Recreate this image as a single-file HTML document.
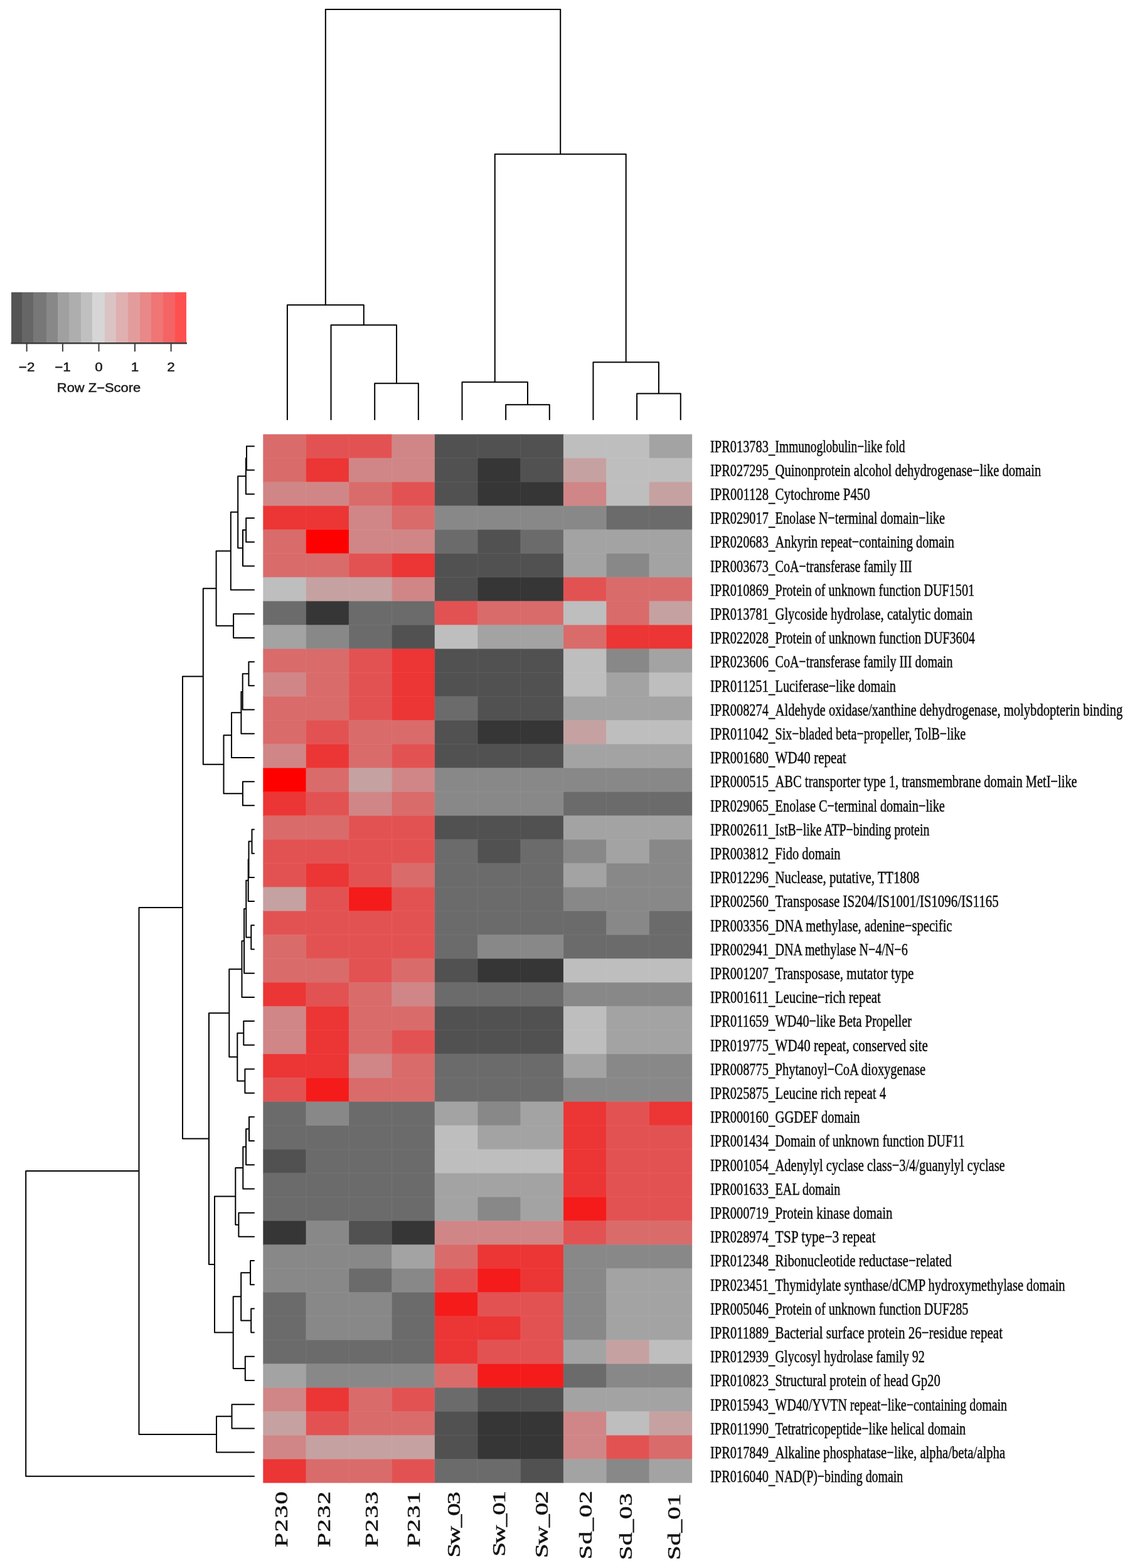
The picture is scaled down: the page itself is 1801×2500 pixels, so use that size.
<!DOCTYPE html>
<html><head><meta charset="utf-8"><title>Heatmap</title>
<style>html,body{margin:0;padding:0;background:#fff;}body{width:1801px;height:2500px;overflow:hidden;}svg{display:block;}.rl{font-family:"Liberation Serif","Times New Roman",serif;font-size:27.6px;fill:#0a0a0a;stroke:#0a0a0a;stroke-width:0.45px;}.cl{font-family:"Liberation Serif","Times New Roman",serif;font-size:30.5px;fill:#111;stroke:#111;stroke-width:0.5px;}.kt{font-family:"Liberation Sans",Arial,sans-serif;font-size:19.5px;fill:#1a1a1a;stroke:#1a1a1a;stroke-width:0.45px;}</style></head><body>
<svg width="1801" height="2500" viewBox="0 0 1801 2500">
<rect width="1801" height="2500" fill="#fff"/>
<g>
<rect x="419.3" y="692.4" width="69.38" height="39" fill="#d96b6b"/>
<rect x="487.68" y="692.4" width="69.38" height="39" fill="#e35252"/>
<rect x="556.06" y="692.4" width="69.38" height="39" fill="#e35252"/>
<rect x="624.44" y="692.4" width="69.38" height="39" fill="#d08686"/>
<rect x="692.82" y="692.4" width="69.38" height="39" fill="#515151"/>
<rect x="761.2" y="692.4" width="69.38" height="39" fill="#515151"/>
<rect x="829.58" y="692.4" width="69.38" height="39" fill="#515151"/>
<rect x="897.96" y="692.4" width="69.38" height="39" fill="#bebebe"/>
<rect x="966.34" y="692.4" width="69.38" height="39" fill="#bebebe"/>
<rect x="1034.72" y="692.4" width="68.38" height="39" fill="#a3a3a3"/>
<rect x="419.3" y="730.4" width="69.38" height="39" fill="#d96b6b"/>
<rect x="487.68" y="730.4" width="69.38" height="39" fill="#ec3535"/>
<rect x="556.06" y="730.4" width="69.38" height="39" fill="#d08686"/>
<rect x="624.44" y="730.4" width="69.38" height="39" fill="#d08686"/>
<rect x="692.82" y="730.4" width="69.38" height="39" fill="#515151"/>
<rect x="761.2" y="730.4" width="69.38" height="39" fill="#363636"/>
<rect x="829.58" y="730.4" width="69.38" height="39" fill="#515151"/>
<rect x="897.96" y="730.4" width="69.38" height="39" fill="#c6a1a1"/>
<rect x="966.34" y="730.4" width="69.38" height="39" fill="#bebebe"/>
<rect x="1034.72" y="730.4" width="68.38" height="39" fill="#bebebe"/>
<rect x="419.3" y="768.4" width="69.38" height="39" fill="#d08686"/>
<rect x="487.68" y="768.4" width="69.38" height="39" fill="#d08686"/>
<rect x="556.06" y="768.4" width="69.38" height="39" fill="#d96b6b"/>
<rect x="624.44" y="768.4" width="69.38" height="39" fill="#e35252"/>
<rect x="692.82" y="768.4" width="69.38" height="39" fill="#515151"/>
<rect x="761.2" y="768.4" width="69.38" height="39" fill="#363636"/>
<rect x="829.58" y="768.4" width="69.38" height="39" fill="#363636"/>
<rect x="897.96" y="768.4" width="69.38" height="39" fill="#d08686"/>
<rect x="966.34" y="768.4" width="69.38" height="39" fill="#bebebe"/>
<rect x="1034.72" y="768.4" width="68.38" height="39" fill="#c6a1a1"/>
<rect x="419.3" y="806.4" width="69.38" height="39" fill="#ec3535"/>
<rect x="487.68" y="806.4" width="69.38" height="39" fill="#ec3535"/>
<rect x="556.06" y="806.4" width="69.38" height="39" fill="#d08686"/>
<rect x="624.44" y="806.4" width="69.38" height="39" fill="#d96b6b"/>
<rect x="692.82" y="806.4" width="69.38" height="39" fill="#888888"/>
<rect x="761.2" y="806.4" width="69.38" height="39" fill="#888888"/>
<rect x="829.58" y="806.4" width="69.38" height="39" fill="#888888"/>
<rect x="897.96" y="806.4" width="69.38" height="39" fill="#888888"/>
<rect x="966.34" y="806.4" width="69.38" height="39" fill="#6b6b6b"/>
<rect x="1034.72" y="806.4" width="68.38" height="39" fill="#6b6b6b"/>
<rect x="419.3" y="844.4" width="69.38" height="39" fill="#d96b6b"/>
<rect x="487.68" y="844.4" width="69.38" height="39" fill="#ff0000"/>
<rect x="556.06" y="844.4" width="69.38" height="39" fill="#d08686"/>
<rect x="624.44" y="844.4" width="69.38" height="39" fill="#d08686"/>
<rect x="692.82" y="844.4" width="69.38" height="39" fill="#6b6b6b"/>
<rect x="761.2" y="844.4" width="69.38" height="39" fill="#515151"/>
<rect x="829.58" y="844.4" width="69.38" height="39" fill="#6b6b6b"/>
<rect x="897.96" y="844.4" width="69.38" height="39" fill="#a3a3a3"/>
<rect x="966.34" y="844.4" width="69.38" height="39" fill="#a3a3a3"/>
<rect x="1034.72" y="844.4" width="68.38" height="39" fill="#a3a3a3"/>
<rect x="419.3" y="882.4" width="69.38" height="39" fill="#d96b6b"/>
<rect x="487.68" y="882.4" width="69.38" height="39" fill="#d96b6b"/>
<rect x="556.06" y="882.4" width="69.38" height="39" fill="#e35252"/>
<rect x="624.44" y="882.4" width="69.38" height="39" fill="#ec3535"/>
<rect x="692.82" y="882.4" width="69.38" height="39" fill="#515151"/>
<rect x="761.2" y="882.4" width="69.38" height="39" fill="#515151"/>
<rect x="829.58" y="882.4" width="69.38" height="39" fill="#515151"/>
<rect x="897.96" y="882.4" width="69.38" height="39" fill="#a3a3a3"/>
<rect x="966.34" y="882.4" width="69.38" height="39" fill="#888888"/>
<rect x="1034.72" y="882.4" width="68.38" height="39" fill="#a3a3a3"/>
<rect x="419.3" y="920.4" width="69.38" height="39" fill="#bebebe"/>
<rect x="487.68" y="920.4" width="69.38" height="39" fill="#c6a1a1"/>
<rect x="556.06" y="920.4" width="69.38" height="39" fill="#c6a1a1"/>
<rect x="624.44" y="920.4" width="69.38" height="39" fill="#d08686"/>
<rect x="692.82" y="920.4" width="69.38" height="39" fill="#515151"/>
<rect x="761.2" y="920.4" width="69.38" height="39" fill="#363636"/>
<rect x="829.58" y="920.4" width="69.38" height="39" fill="#363636"/>
<rect x="897.96" y="920.4" width="69.38" height="39" fill="#e35252"/>
<rect x="966.34" y="920.4" width="69.38" height="39" fill="#d96b6b"/>
<rect x="1034.72" y="920.4" width="68.38" height="39" fill="#d96b6b"/>
<rect x="419.3" y="958.4" width="69.38" height="39" fill="#6b6b6b"/>
<rect x="487.68" y="958.4" width="69.38" height="39" fill="#363636"/>
<rect x="556.06" y="958.4" width="69.38" height="39" fill="#6b6b6b"/>
<rect x="624.44" y="958.4" width="69.38" height="39" fill="#6b6b6b"/>
<rect x="692.82" y="958.4" width="69.38" height="39" fill="#e35252"/>
<rect x="761.2" y="958.4" width="69.38" height="39" fill="#d96b6b"/>
<rect x="829.58" y="958.4" width="69.38" height="39" fill="#d96b6b"/>
<rect x="897.96" y="958.4" width="69.38" height="39" fill="#bebebe"/>
<rect x="966.34" y="958.4" width="69.38" height="39" fill="#d96b6b"/>
<rect x="1034.72" y="958.4" width="68.38" height="39" fill="#c6a1a1"/>
<rect x="419.3" y="996.4" width="69.38" height="39" fill="#a3a3a3"/>
<rect x="487.68" y="996.4" width="69.38" height="39" fill="#888888"/>
<rect x="556.06" y="996.4" width="69.38" height="39" fill="#6b6b6b"/>
<rect x="624.44" y="996.4" width="69.38" height="39" fill="#515151"/>
<rect x="692.82" y="996.4" width="69.38" height="39" fill="#bebebe"/>
<rect x="761.2" y="996.4" width="69.38" height="39" fill="#a3a3a3"/>
<rect x="829.58" y="996.4" width="69.38" height="39" fill="#a3a3a3"/>
<rect x="897.96" y="996.4" width="69.38" height="39" fill="#d96b6b"/>
<rect x="966.34" y="996.4" width="69.38" height="39" fill="#ec3535"/>
<rect x="1034.72" y="996.4" width="68.38" height="39" fill="#ec3535"/>
<rect x="419.3" y="1034.4" width="69.38" height="39" fill="#d96b6b"/>
<rect x="487.68" y="1034.4" width="69.38" height="39" fill="#d96b6b"/>
<rect x="556.06" y="1034.4" width="69.38" height="39" fill="#e35252"/>
<rect x="624.44" y="1034.4" width="69.38" height="39" fill="#ec3535"/>
<rect x="692.82" y="1034.4" width="69.38" height="39" fill="#515151"/>
<rect x="761.2" y="1034.4" width="69.38" height="39" fill="#515151"/>
<rect x="829.58" y="1034.4" width="69.38" height="39" fill="#515151"/>
<rect x="897.96" y="1034.4" width="69.38" height="39" fill="#bebebe"/>
<rect x="966.34" y="1034.4" width="69.38" height="39" fill="#888888"/>
<rect x="1034.72" y="1034.4" width="68.38" height="39" fill="#a3a3a3"/>
<rect x="419.3" y="1072.4" width="69.38" height="39" fill="#d08686"/>
<rect x="487.68" y="1072.4" width="69.38" height="39" fill="#d96b6b"/>
<rect x="556.06" y="1072.4" width="69.38" height="39" fill="#e35252"/>
<rect x="624.44" y="1072.4" width="69.38" height="39" fill="#ec3535"/>
<rect x="692.82" y="1072.4" width="69.38" height="39" fill="#515151"/>
<rect x="761.2" y="1072.4" width="69.38" height="39" fill="#515151"/>
<rect x="829.58" y="1072.4" width="69.38" height="39" fill="#515151"/>
<rect x="897.96" y="1072.4" width="69.38" height="39" fill="#bebebe"/>
<rect x="966.34" y="1072.4" width="69.38" height="39" fill="#a3a3a3"/>
<rect x="1034.72" y="1072.4" width="68.38" height="39" fill="#bebebe"/>
<rect x="419.3" y="1110.4" width="69.38" height="39" fill="#d96b6b"/>
<rect x="487.68" y="1110.4" width="69.38" height="39" fill="#d96b6b"/>
<rect x="556.06" y="1110.4" width="69.38" height="39" fill="#e35252"/>
<rect x="624.44" y="1110.4" width="69.38" height="39" fill="#ec3535"/>
<rect x="692.82" y="1110.4" width="69.38" height="39" fill="#6b6b6b"/>
<rect x="761.2" y="1110.4" width="69.38" height="39" fill="#515151"/>
<rect x="829.58" y="1110.4" width="69.38" height="39" fill="#515151"/>
<rect x="897.96" y="1110.4" width="69.38" height="39" fill="#a3a3a3"/>
<rect x="966.34" y="1110.4" width="69.38" height="39" fill="#a3a3a3"/>
<rect x="1034.72" y="1110.4" width="68.38" height="39" fill="#a3a3a3"/>
<rect x="419.3" y="1148.4" width="69.38" height="39" fill="#d96b6b"/>
<rect x="487.68" y="1148.4" width="69.38" height="39" fill="#e35252"/>
<rect x="556.06" y="1148.4" width="69.38" height="39" fill="#d96b6b"/>
<rect x="624.44" y="1148.4" width="69.38" height="39" fill="#d96b6b"/>
<rect x="692.82" y="1148.4" width="69.38" height="39" fill="#515151"/>
<rect x="761.2" y="1148.4" width="69.38" height="39" fill="#363636"/>
<rect x="829.58" y="1148.4" width="69.38" height="39" fill="#363636"/>
<rect x="897.96" y="1148.4" width="69.38" height="39" fill="#c6a1a1"/>
<rect x="966.34" y="1148.4" width="69.38" height="39" fill="#bebebe"/>
<rect x="1034.72" y="1148.4" width="68.38" height="39" fill="#bebebe"/>
<rect x="419.3" y="1186.4" width="69.38" height="39" fill="#d08686"/>
<rect x="487.68" y="1186.4" width="69.38" height="39" fill="#ec3535"/>
<rect x="556.06" y="1186.4" width="69.38" height="39" fill="#d96b6b"/>
<rect x="624.44" y="1186.4" width="69.38" height="39" fill="#e35252"/>
<rect x="692.82" y="1186.4" width="69.38" height="39" fill="#515151"/>
<rect x="761.2" y="1186.4" width="69.38" height="39" fill="#515151"/>
<rect x="829.58" y="1186.4" width="69.38" height="39" fill="#515151"/>
<rect x="897.96" y="1186.4" width="69.38" height="39" fill="#a3a3a3"/>
<rect x="966.34" y="1186.4" width="69.38" height="39" fill="#a3a3a3"/>
<rect x="1034.72" y="1186.4" width="68.38" height="39" fill="#a3a3a3"/>
<rect x="419.3" y="1224.4" width="69.38" height="39" fill="#ff0000"/>
<rect x="487.68" y="1224.4" width="69.38" height="39" fill="#d96b6b"/>
<rect x="556.06" y="1224.4" width="69.38" height="39" fill="#c6a1a1"/>
<rect x="624.44" y="1224.4" width="69.38" height="39" fill="#d08686"/>
<rect x="692.82" y="1224.4" width="69.38" height="39" fill="#888888"/>
<rect x="761.2" y="1224.4" width="69.38" height="39" fill="#888888"/>
<rect x="829.58" y="1224.4" width="69.38" height="39" fill="#888888"/>
<rect x="897.96" y="1224.4" width="69.38" height="39" fill="#888888"/>
<rect x="966.34" y="1224.4" width="69.38" height="39" fill="#888888"/>
<rect x="1034.72" y="1224.4" width="68.38" height="39" fill="#888888"/>
<rect x="419.3" y="1262.4" width="69.38" height="39" fill="#ec3535"/>
<rect x="487.68" y="1262.4" width="69.38" height="39" fill="#e35252"/>
<rect x="556.06" y="1262.4" width="69.38" height="39" fill="#d08686"/>
<rect x="624.44" y="1262.4" width="69.38" height="39" fill="#d96b6b"/>
<rect x="692.82" y="1262.4" width="69.38" height="39" fill="#888888"/>
<rect x="761.2" y="1262.4" width="69.38" height="39" fill="#888888"/>
<rect x="829.58" y="1262.4" width="69.38" height="39" fill="#888888"/>
<rect x="897.96" y="1262.4" width="69.38" height="39" fill="#6b6b6b"/>
<rect x="966.34" y="1262.4" width="69.38" height="39" fill="#6b6b6b"/>
<rect x="1034.72" y="1262.4" width="68.38" height="39" fill="#6b6b6b"/>
<rect x="419.3" y="1300.4" width="69.38" height="39" fill="#d96b6b"/>
<rect x="487.68" y="1300.4" width="69.38" height="39" fill="#d96b6b"/>
<rect x="556.06" y="1300.4" width="69.38" height="39" fill="#e35252"/>
<rect x="624.44" y="1300.4" width="69.38" height="39" fill="#e35252"/>
<rect x="692.82" y="1300.4" width="69.38" height="39" fill="#515151"/>
<rect x="761.2" y="1300.4" width="69.38" height="39" fill="#515151"/>
<rect x="829.58" y="1300.4" width="69.38" height="39" fill="#515151"/>
<rect x="897.96" y="1300.4" width="69.38" height="39" fill="#a3a3a3"/>
<rect x="966.34" y="1300.4" width="69.38" height="39" fill="#a3a3a3"/>
<rect x="1034.72" y="1300.4" width="68.38" height="39" fill="#a3a3a3"/>
<rect x="419.3" y="1338.4" width="69.38" height="39" fill="#e35252"/>
<rect x="487.68" y="1338.4" width="69.38" height="39" fill="#e35252"/>
<rect x="556.06" y="1338.4" width="69.38" height="39" fill="#e35252"/>
<rect x="624.44" y="1338.4" width="69.38" height="39" fill="#e35252"/>
<rect x="692.82" y="1338.4" width="69.38" height="39" fill="#6b6b6b"/>
<rect x="761.2" y="1338.4" width="69.38" height="39" fill="#515151"/>
<rect x="829.58" y="1338.4" width="69.38" height="39" fill="#6b6b6b"/>
<rect x="897.96" y="1338.4" width="69.38" height="39" fill="#888888"/>
<rect x="966.34" y="1338.4" width="69.38" height="39" fill="#a3a3a3"/>
<rect x="1034.72" y="1338.4" width="68.38" height="39" fill="#888888"/>
<rect x="419.3" y="1376.4" width="69.38" height="39" fill="#e35252"/>
<rect x="487.68" y="1376.4" width="69.38" height="39" fill="#ec3535"/>
<rect x="556.06" y="1376.4" width="69.38" height="39" fill="#e35252"/>
<rect x="624.44" y="1376.4" width="69.38" height="39" fill="#d96b6b"/>
<rect x="692.82" y="1376.4" width="69.38" height="39" fill="#6b6b6b"/>
<rect x="761.2" y="1376.4" width="69.38" height="39" fill="#6b6b6b"/>
<rect x="829.58" y="1376.4" width="69.38" height="39" fill="#6b6b6b"/>
<rect x="897.96" y="1376.4" width="69.38" height="39" fill="#a3a3a3"/>
<rect x="966.34" y="1376.4" width="69.38" height="39" fill="#888888"/>
<rect x="1034.72" y="1376.4" width="68.38" height="39" fill="#888888"/>
<rect x="419.3" y="1414.4" width="69.38" height="39" fill="#c6a1a1"/>
<rect x="487.68" y="1414.4" width="69.38" height="39" fill="#e35252"/>
<rect x="556.06" y="1414.4" width="69.38" height="39" fill="#f51b1b"/>
<rect x="624.44" y="1414.4" width="69.38" height="39" fill="#e35252"/>
<rect x="692.82" y="1414.4" width="69.38" height="39" fill="#6b6b6b"/>
<rect x="761.2" y="1414.4" width="69.38" height="39" fill="#6b6b6b"/>
<rect x="829.58" y="1414.4" width="69.38" height="39" fill="#6b6b6b"/>
<rect x="897.96" y="1414.4" width="69.38" height="39" fill="#888888"/>
<rect x="966.34" y="1414.4" width="69.38" height="39" fill="#888888"/>
<rect x="1034.72" y="1414.4" width="68.38" height="39" fill="#888888"/>
<rect x="419.3" y="1452.4" width="69.38" height="39" fill="#e35252"/>
<rect x="487.68" y="1452.4" width="69.38" height="39" fill="#e35252"/>
<rect x="556.06" y="1452.4" width="69.38" height="39" fill="#e35252"/>
<rect x="624.44" y="1452.4" width="69.38" height="39" fill="#e35252"/>
<rect x="692.82" y="1452.4" width="69.38" height="39" fill="#6b6b6b"/>
<rect x="761.2" y="1452.4" width="69.38" height="39" fill="#6b6b6b"/>
<rect x="829.58" y="1452.4" width="69.38" height="39" fill="#6b6b6b"/>
<rect x="897.96" y="1452.4" width="69.38" height="39" fill="#6b6b6b"/>
<rect x="966.34" y="1452.4" width="69.38" height="39" fill="#888888"/>
<rect x="1034.72" y="1452.4" width="68.38" height="39" fill="#6b6b6b"/>
<rect x="419.3" y="1490.4" width="69.38" height="39" fill="#d96b6b"/>
<rect x="487.68" y="1490.4" width="69.38" height="39" fill="#e35252"/>
<rect x="556.06" y="1490.4" width="69.38" height="39" fill="#e35252"/>
<rect x="624.44" y="1490.4" width="69.38" height="39" fill="#e35252"/>
<rect x="692.82" y="1490.4" width="69.38" height="39" fill="#6b6b6b"/>
<rect x="761.2" y="1490.4" width="69.38" height="39" fill="#888888"/>
<rect x="829.58" y="1490.4" width="69.38" height="39" fill="#888888"/>
<rect x="897.96" y="1490.4" width="69.38" height="39" fill="#6b6b6b"/>
<rect x="966.34" y="1490.4" width="69.38" height="39" fill="#6b6b6b"/>
<rect x="1034.72" y="1490.4" width="68.38" height="39" fill="#6b6b6b"/>
<rect x="419.3" y="1528.4" width="69.38" height="39" fill="#d96b6b"/>
<rect x="487.68" y="1528.4" width="69.38" height="39" fill="#d96b6b"/>
<rect x="556.06" y="1528.4" width="69.38" height="39" fill="#e35252"/>
<rect x="624.44" y="1528.4" width="69.38" height="39" fill="#d96b6b"/>
<rect x="692.82" y="1528.4" width="69.38" height="39" fill="#515151"/>
<rect x="761.2" y="1528.4" width="69.38" height="39" fill="#363636"/>
<rect x="829.58" y="1528.4" width="69.38" height="39" fill="#363636"/>
<rect x="897.96" y="1528.4" width="69.38" height="39" fill="#bebebe"/>
<rect x="966.34" y="1528.4" width="69.38" height="39" fill="#bebebe"/>
<rect x="1034.72" y="1528.4" width="68.38" height="39" fill="#bebebe"/>
<rect x="419.3" y="1566.4" width="69.38" height="39" fill="#ec3535"/>
<rect x="487.68" y="1566.4" width="69.38" height="39" fill="#e35252"/>
<rect x="556.06" y="1566.4" width="69.38" height="39" fill="#d96b6b"/>
<rect x="624.44" y="1566.4" width="69.38" height="39" fill="#d08686"/>
<rect x="692.82" y="1566.4" width="69.38" height="39" fill="#6b6b6b"/>
<rect x="761.2" y="1566.4" width="69.38" height="39" fill="#6b6b6b"/>
<rect x="829.58" y="1566.4" width="69.38" height="39" fill="#6b6b6b"/>
<rect x="897.96" y="1566.4" width="69.38" height="39" fill="#888888"/>
<rect x="966.34" y="1566.4" width="69.38" height="39" fill="#888888"/>
<rect x="1034.72" y="1566.4" width="68.38" height="39" fill="#888888"/>
<rect x="419.3" y="1604.4" width="69.38" height="39" fill="#d08686"/>
<rect x="487.68" y="1604.4" width="69.38" height="39" fill="#ec3535"/>
<rect x="556.06" y="1604.4" width="69.38" height="39" fill="#d96b6b"/>
<rect x="624.44" y="1604.4" width="69.38" height="39" fill="#d96b6b"/>
<rect x="692.82" y="1604.4" width="69.38" height="39" fill="#515151"/>
<rect x="761.2" y="1604.4" width="69.38" height="39" fill="#515151"/>
<rect x="829.58" y="1604.4" width="69.38" height="39" fill="#515151"/>
<rect x="897.96" y="1604.4" width="69.38" height="39" fill="#bebebe"/>
<rect x="966.34" y="1604.4" width="69.38" height="39" fill="#a3a3a3"/>
<rect x="1034.72" y="1604.4" width="68.38" height="39" fill="#a3a3a3"/>
<rect x="419.3" y="1642.4" width="69.38" height="39" fill="#d08686"/>
<rect x="487.68" y="1642.4" width="69.38" height="39" fill="#ec3535"/>
<rect x="556.06" y="1642.4" width="69.38" height="39" fill="#d96b6b"/>
<rect x="624.44" y="1642.4" width="69.38" height="39" fill="#e35252"/>
<rect x="692.82" y="1642.4" width="69.38" height="39" fill="#515151"/>
<rect x="761.2" y="1642.4" width="69.38" height="39" fill="#515151"/>
<rect x="829.58" y="1642.4" width="69.38" height="39" fill="#515151"/>
<rect x="897.96" y="1642.4" width="69.38" height="39" fill="#bebebe"/>
<rect x="966.34" y="1642.4" width="69.38" height="39" fill="#a3a3a3"/>
<rect x="1034.72" y="1642.4" width="68.38" height="39" fill="#a3a3a3"/>
<rect x="419.3" y="1680.4" width="69.38" height="39" fill="#ec3535"/>
<rect x="487.68" y="1680.4" width="69.38" height="39" fill="#ec3535"/>
<rect x="556.06" y="1680.4" width="69.38" height="39" fill="#d08686"/>
<rect x="624.44" y="1680.4" width="69.38" height="39" fill="#d96b6b"/>
<rect x="692.82" y="1680.4" width="69.38" height="39" fill="#6b6b6b"/>
<rect x="761.2" y="1680.4" width="69.38" height="39" fill="#6b6b6b"/>
<rect x="829.58" y="1680.4" width="69.38" height="39" fill="#6b6b6b"/>
<rect x="897.96" y="1680.4" width="69.38" height="39" fill="#a3a3a3"/>
<rect x="966.34" y="1680.4" width="69.38" height="39" fill="#888888"/>
<rect x="1034.72" y="1680.4" width="68.38" height="39" fill="#888888"/>
<rect x="419.3" y="1718.4" width="69.38" height="39" fill="#e35252"/>
<rect x="487.68" y="1718.4" width="69.38" height="39" fill="#f51b1b"/>
<rect x="556.06" y="1718.4" width="69.38" height="39" fill="#d96b6b"/>
<rect x="624.44" y="1718.4" width="69.38" height="39" fill="#d96b6b"/>
<rect x="692.82" y="1718.4" width="69.38" height="39" fill="#6b6b6b"/>
<rect x="761.2" y="1718.4" width="69.38" height="39" fill="#6b6b6b"/>
<rect x="829.58" y="1718.4" width="69.38" height="39" fill="#6b6b6b"/>
<rect x="897.96" y="1718.4" width="69.38" height="39" fill="#888888"/>
<rect x="966.34" y="1718.4" width="69.38" height="39" fill="#888888"/>
<rect x="1034.72" y="1718.4" width="68.38" height="39" fill="#888888"/>
<rect x="419.3" y="1756.4" width="69.38" height="39" fill="#6b6b6b"/>
<rect x="487.68" y="1756.4" width="69.38" height="39" fill="#888888"/>
<rect x="556.06" y="1756.4" width="69.38" height="39" fill="#6b6b6b"/>
<rect x="624.44" y="1756.4" width="69.38" height="39" fill="#6b6b6b"/>
<rect x="692.82" y="1756.4" width="69.38" height="39" fill="#a3a3a3"/>
<rect x="761.2" y="1756.4" width="69.38" height="39" fill="#888888"/>
<rect x="829.58" y="1756.4" width="69.38" height="39" fill="#a3a3a3"/>
<rect x="897.96" y="1756.4" width="69.38" height="39" fill="#ec3535"/>
<rect x="966.34" y="1756.4" width="69.38" height="39" fill="#e35252"/>
<rect x="1034.72" y="1756.4" width="68.38" height="39" fill="#ec3535"/>
<rect x="419.3" y="1794.4" width="69.38" height="39" fill="#6b6b6b"/>
<rect x="487.68" y="1794.4" width="69.38" height="39" fill="#6b6b6b"/>
<rect x="556.06" y="1794.4" width="69.38" height="39" fill="#6b6b6b"/>
<rect x="624.44" y="1794.4" width="69.38" height="39" fill="#6b6b6b"/>
<rect x="692.82" y="1794.4" width="69.38" height="39" fill="#bebebe"/>
<rect x="761.2" y="1794.4" width="69.38" height="39" fill="#a3a3a3"/>
<rect x="829.58" y="1794.4" width="69.38" height="39" fill="#a3a3a3"/>
<rect x="897.96" y="1794.4" width="69.38" height="39" fill="#ec3535"/>
<rect x="966.34" y="1794.4" width="69.38" height="39" fill="#e35252"/>
<rect x="1034.72" y="1794.4" width="68.38" height="39" fill="#e35252"/>
<rect x="419.3" y="1832.4" width="69.38" height="39" fill="#515151"/>
<rect x="487.68" y="1832.4" width="69.38" height="39" fill="#6b6b6b"/>
<rect x="556.06" y="1832.4" width="69.38" height="39" fill="#6b6b6b"/>
<rect x="624.44" y="1832.4" width="69.38" height="39" fill="#6b6b6b"/>
<rect x="692.82" y="1832.4" width="69.38" height="39" fill="#bebebe"/>
<rect x="761.2" y="1832.4" width="69.38" height="39" fill="#bebebe"/>
<rect x="829.58" y="1832.4" width="69.38" height="39" fill="#bebebe"/>
<rect x="897.96" y="1832.4" width="69.38" height="39" fill="#ec3535"/>
<rect x="966.34" y="1832.4" width="69.38" height="39" fill="#e35252"/>
<rect x="1034.72" y="1832.4" width="68.38" height="39" fill="#e35252"/>
<rect x="419.3" y="1870.4" width="69.38" height="39" fill="#6b6b6b"/>
<rect x="487.68" y="1870.4" width="69.38" height="39" fill="#6b6b6b"/>
<rect x="556.06" y="1870.4" width="69.38" height="39" fill="#6b6b6b"/>
<rect x="624.44" y="1870.4" width="69.38" height="39" fill="#6b6b6b"/>
<rect x="692.82" y="1870.4" width="69.38" height="39" fill="#a3a3a3"/>
<rect x="761.2" y="1870.4" width="69.38" height="39" fill="#a3a3a3"/>
<rect x="829.58" y="1870.4" width="69.38" height="39" fill="#a3a3a3"/>
<rect x="897.96" y="1870.4" width="69.38" height="39" fill="#ec3535"/>
<rect x="966.34" y="1870.4" width="69.38" height="39" fill="#e35252"/>
<rect x="1034.72" y="1870.4" width="68.38" height="39" fill="#e35252"/>
<rect x="419.3" y="1908.4" width="69.38" height="39" fill="#6b6b6b"/>
<rect x="487.68" y="1908.4" width="69.38" height="39" fill="#6b6b6b"/>
<rect x="556.06" y="1908.4" width="69.38" height="39" fill="#6b6b6b"/>
<rect x="624.44" y="1908.4" width="69.38" height="39" fill="#6b6b6b"/>
<rect x="692.82" y="1908.4" width="69.38" height="39" fill="#a3a3a3"/>
<rect x="761.2" y="1908.4" width="69.38" height="39" fill="#888888"/>
<rect x="829.58" y="1908.4" width="69.38" height="39" fill="#a3a3a3"/>
<rect x="897.96" y="1908.4" width="69.38" height="39" fill="#f51b1b"/>
<rect x="966.34" y="1908.4" width="69.38" height="39" fill="#e35252"/>
<rect x="1034.72" y="1908.4" width="68.38" height="39" fill="#e35252"/>
<rect x="419.3" y="1946.4" width="69.38" height="39" fill="#363636"/>
<rect x="487.68" y="1946.4" width="69.38" height="39" fill="#888888"/>
<rect x="556.06" y="1946.4" width="69.38" height="39" fill="#515151"/>
<rect x="624.44" y="1946.4" width="69.38" height="39" fill="#363636"/>
<rect x="692.82" y="1946.4" width="69.38" height="39" fill="#d08686"/>
<rect x="761.2" y="1946.4" width="69.38" height="39" fill="#d08686"/>
<rect x="829.58" y="1946.4" width="69.38" height="39" fill="#d08686"/>
<rect x="897.96" y="1946.4" width="69.38" height="39" fill="#e35252"/>
<rect x="966.34" y="1946.4" width="69.38" height="39" fill="#d96b6b"/>
<rect x="1034.72" y="1946.4" width="68.38" height="39" fill="#d96b6b"/>
<rect x="419.3" y="1984.4" width="69.38" height="39" fill="#888888"/>
<rect x="487.68" y="1984.4" width="69.38" height="39" fill="#888888"/>
<rect x="556.06" y="1984.4" width="69.38" height="39" fill="#888888"/>
<rect x="624.44" y="1984.4" width="69.38" height="39" fill="#a3a3a3"/>
<rect x="692.82" y="1984.4" width="69.38" height="39" fill="#d96b6b"/>
<rect x="761.2" y="1984.4" width="69.38" height="39" fill="#ec3535"/>
<rect x="829.58" y="1984.4" width="69.38" height="39" fill="#ec3535"/>
<rect x="897.96" y="1984.4" width="69.38" height="39" fill="#888888"/>
<rect x="966.34" y="1984.4" width="69.38" height="39" fill="#888888"/>
<rect x="1034.72" y="1984.4" width="68.38" height="39" fill="#888888"/>
<rect x="419.3" y="2022.4" width="69.38" height="39" fill="#888888"/>
<rect x="487.68" y="2022.4" width="69.38" height="39" fill="#888888"/>
<rect x="556.06" y="2022.4" width="69.38" height="39" fill="#6b6b6b"/>
<rect x="624.44" y="2022.4" width="69.38" height="39" fill="#888888"/>
<rect x="692.82" y="2022.4" width="69.38" height="39" fill="#e35252"/>
<rect x="761.2" y="2022.4" width="69.38" height="39" fill="#f51b1b"/>
<rect x="829.58" y="2022.4" width="69.38" height="39" fill="#ec3535"/>
<rect x="897.96" y="2022.4" width="69.38" height="39" fill="#888888"/>
<rect x="966.34" y="2022.4" width="69.38" height="39" fill="#a3a3a3"/>
<rect x="1034.72" y="2022.4" width="68.38" height="39" fill="#a3a3a3"/>
<rect x="419.3" y="2060.4" width="69.38" height="39" fill="#6b6b6b"/>
<rect x="487.68" y="2060.4" width="69.38" height="39" fill="#888888"/>
<rect x="556.06" y="2060.4" width="69.38" height="39" fill="#888888"/>
<rect x="624.44" y="2060.4" width="69.38" height="39" fill="#6b6b6b"/>
<rect x="692.82" y="2060.4" width="69.38" height="39" fill="#f51b1b"/>
<rect x="761.2" y="2060.4" width="69.38" height="39" fill="#e35252"/>
<rect x="829.58" y="2060.4" width="69.38" height="39" fill="#e35252"/>
<rect x="897.96" y="2060.4" width="69.38" height="39" fill="#888888"/>
<rect x="966.34" y="2060.4" width="69.38" height="39" fill="#a3a3a3"/>
<rect x="1034.72" y="2060.4" width="68.38" height="39" fill="#a3a3a3"/>
<rect x="419.3" y="2098.4" width="69.38" height="39" fill="#6b6b6b"/>
<rect x="487.68" y="2098.4" width="69.38" height="39" fill="#888888"/>
<rect x="556.06" y="2098.4" width="69.38" height="39" fill="#888888"/>
<rect x="624.44" y="2098.4" width="69.38" height="39" fill="#6b6b6b"/>
<rect x="692.82" y="2098.4" width="69.38" height="39" fill="#ec3535"/>
<rect x="761.2" y="2098.4" width="69.38" height="39" fill="#ec3535"/>
<rect x="829.58" y="2098.4" width="69.38" height="39" fill="#e35252"/>
<rect x="897.96" y="2098.4" width="69.38" height="39" fill="#888888"/>
<rect x="966.34" y="2098.4" width="69.38" height="39" fill="#a3a3a3"/>
<rect x="1034.72" y="2098.4" width="68.38" height="39" fill="#a3a3a3"/>
<rect x="419.3" y="2136.4" width="69.38" height="39" fill="#6b6b6b"/>
<rect x="487.68" y="2136.4" width="69.38" height="39" fill="#6b6b6b"/>
<rect x="556.06" y="2136.4" width="69.38" height="39" fill="#6b6b6b"/>
<rect x="624.44" y="2136.4" width="69.38" height="39" fill="#6b6b6b"/>
<rect x="692.82" y="2136.4" width="69.38" height="39" fill="#ec3535"/>
<rect x="761.2" y="2136.4" width="69.38" height="39" fill="#e35252"/>
<rect x="829.58" y="2136.4" width="69.38" height="39" fill="#e35252"/>
<rect x="897.96" y="2136.4" width="69.38" height="39" fill="#a3a3a3"/>
<rect x="966.34" y="2136.4" width="69.38" height="39" fill="#c6a1a1"/>
<rect x="1034.72" y="2136.4" width="68.38" height="39" fill="#bebebe"/>
<rect x="419.3" y="2174.4" width="69.38" height="39" fill="#a3a3a3"/>
<rect x="487.68" y="2174.4" width="69.38" height="39" fill="#888888"/>
<rect x="556.06" y="2174.4" width="69.38" height="39" fill="#888888"/>
<rect x="624.44" y="2174.4" width="69.38" height="39" fill="#888888"/>
<rect x="692.82" y="2174.4" width="69.38" height="39" fill="#d96b6b"/>
<rect x="761.2" y="2174.4" width="69.38" height="39" fill="#f51b1b"/>
<rect x="829.58" y="2174.4" width="69.38" height="39" fill="#f51b1b"/>
<rect x="897.96" y="2174.4" width="69.38" height="39" fill="#6b6b6b"/>
<rect x="966.34" y="2174.4" width="69.38" height="39" fill="#888888"/>
<rect x="1034.72" y="2174.4" width="68.38" height="39" fill="#888888"/>
<rect x="419.3" y="2212.4" width="69.38" height="39" fill="#d08686"/>
<rect x="487.68" y="2212.4" width="69.38" height="39" fill="#ec3535"/>
<rect x="556.06" y="2212.4" width="69.38" height="39" fill="#d96b6b"/>
<rect x="624.44" y="2212.4" width="69.38" height="39" fill="#e35252"/>
<rect x="692.82" y="2212.4" width="69.38" height="39" fill="#6b6b6b"/>
<rect x="761.2" y="2212.4" width="69.38" height="39" fill="#515151"/>
<rect x="829.58" y="2212.4" width="69.38" height="39" fill="#515151"/>
<rect x="897.96" y="2212.4" width="69.38" height="39" fill="#a3a3a3"/>
<rect x="966.34" y="2212.4" width="69.38" height="39" fill="#a3a3a3"/>
<rect x="1034.72" y="2212.4" width="68.38" height="39" fill="#a3a3a3"/>
<rect x="419.3" y="2250.4" width="69.38" height="39" fill="#c6a1a1"/>
<rect x="487.68" y="2250.4" width="69.38" height="39" fill="#e35252"/>
<rect x="556.06" y="2250.4" width="69.38" height="39" fill="#d96b6b"/>
<rect x="624.44" y="2250.4" width="69.38" height="39" fill="#d96b6b"/>
<rect x="692.82" y="2250.4" width="69.38" height="39" fill="#515151"/>
<rect x="761.2" y="2250.4" width="69.38" height="39" fill="#363636"/>
<rect x="829.58" y="2250.4" width="69.38" height="39" fill="#363636"/>
<rect x="897.96" y="2250.4" width="69.38" height="39" fill="#d08686"/>
<rect x="966.34" y="2250.4" width="69.38" height="39" fill="#bebebe"/>
<rect x="1034.72" y="2250.4" width="68.38" height="39" fill="#c6a1a1"/>
<rect x="419.3" y="2288.4" width="69.38" height="39" fill="#d08686"/>
<rect x="487.68" y="2288.4" width="69.38" height="39" fill="#c6a1a1"/>
<rect x="556.06" y="2288.4" width="69.38" height="39" fill="#c6a1a1"/>
<rect x="624.44" y="2288.4" width="69.38" height="39" fill="#c6a1a1"/>
<rect x="692.82" y="2288.4" width="69.38" height="39" fill="#515151"/>
<rect x="761.2" y="2288.4" width="69.38" height="39" fill="#363636"/>
<rect x="829.58" y="2288.4" width="69.38" height="39" fill="#363636"/>
<rect x="897.96" y="2288.4" width="69.38" height="39" fill="#d08686"/>
<rect x="966.34" y="2288.4" width="69.38" height="39" fill="#e35252"/>
<rect x="1034.72" y="2288.4" width="68.38" height="39" fill="#d96b6b"/>
<rect x="419.3" y="2326.4" width="69.38" height="38" fill="#ec3535"/>
<rect x="487.68" y="2326.4" width="69.38" height="38" fill="#d96b6b"/>
<rect x="556.06" y="2326.4" width="69.38" height="38" fill="#d96b6b"/>
<rect x="624.44" y="2326.4" width="69.38" height="38" fill="#e35252"/>
<rect x="692.82" y="2326.4" width="69.38" height="38" fill="#6b6b6b"/>
<rect x="761.2" y="2326.4" width="69.38" height="38" fill="#6b6b6b"/>
<rect x="829.58" y="2326.4" width="69.38" height="38" fill="#515151"/>
<rect x="897.96" y="2326.4" width="69.38" height="38" fill="#a3a3a3"/>
<rect x="966.34" y="2326.4" width="69.38" height="38" fill="#888888"/>
<rect x="1034.72" y="2326.4" width="68.38" height="38" fill="#a3a3a3"/>
</g>
<path d="M487.68 692.4V2364.4M556.06 692.4V2364.4M624.44 692.4V2364.4M692.82 692.4V2364.4M761.2 692.4V2364.4M829.58 692.4V2364.4M897.96 692.4V2364.4M966.34 692.4V2364.4M1034.72 692.4V2364.4M419.3 730.4H1103.1M419.3 768.4H1103.1M419.3 806.4H1103.1M419.3 844.4H1103.1M419.3 882.4H1103.1M419.3 920.4H1103.1M419.3 958.4H1103.1M419.3 996.4H1103.1M419.3 1034.4H1103.1M419.3 1072.4H1103.1M419.3 1110.4H1103.1M419.3 1148.4H1103.1M419.3 1186.4H1103.1M419.3 1224.4H1103.1M419.3 1262.4H1103.1M419.3 1300.4H1103.1M419.3 1338.4H1103.1M419.3 1376.4H1103.1M419.3 1414.4H1103.1M419.3 1452.4H1103.1M419.3 1490.4H1103.1M419.3 1528.4H1103.1M419.3 1566.4H1103.1M419.3 1604.4H1103.1M419.3 1642.4H1103.1M419.3 1680.4H1103.1M419.3 1718.4H1103.1M419.3 1756.4H1103.1M419.3 1794.4H1103.1M419.3 1832.4H1103.1M419.3 1870.4H1103.1M419.3 1908.4H1103.1M419.3 1946.4H1103.1M419.3 1984.4H1103.1M419.3 2022.4H1103.1M419.3 2060.4H1103.1M419.3 2098.4H1103.1M419.3 2136.4H1103.1M419.3 2174.4H1103.1M419.3 2212.4H1103.1M419.3 2250.4H1103.1M419.3 2288.4H1103.1M419.3 2326.4H1103.1" stroke="#fff" stroke-opacity="0.06" stroke-width="1.2" fill="none"/>
<path d="M393 730.5V711.4H405M393 730.5V749.6H405M391.9 759.14V730.5H393M391.9 759.14V787.79H405M392.2 845.08V825.99H405M392.2 845.08V864.18H405M387 873.73V845.08H392.2M387 873.73V902.38H405M379.2 816.44V759.14H391.9M379.2 816.44V873.73H387M367.8 878.5V816.44H379.2M367.8 878.5V940.57H405M372.1 997.86V978.76H405M372.1 997.86V1016.96H405M344.6 938.18V878.5H367.8M344.6 938.18V997.86H372.1M396.4 1074.25V1055.15H405M396.4 1074.25V1093.35H405M386.7 1102.9V1074.25H396.4M386.7 1102.9V1131.55H405M384.4 1136.32V1102.9H386.7M384.4 1136.32V1169.74H405M369 1172.13V1136.32H384.4M369 1172.13V1207.93H405M386.9 1265.23V1246.13H405M386.9 1265.23V1284.32H405M356.5 1218.68V1172.13H369M356.5 1218.68V1265.23H386.9M323.8 1078.43V938.18H344.6M323.8 1078.43V1218.68H356.5M401.5 1341.62V1322.52H405M401.5 1341.62V1360.72H405M396.5 1370.26V1341.62H401.5M396.5 1370.26V1398.91H405M395.7 1403.68V1370.26H396.5M395.7 1403.68V1437.11H405M400.3 1494.4V1475.3H405M400.3 1494.4V1513.49H405M392.3 1449.04V1403.68H395.7M392.3 1449.04V1494.4H400.3M389.1 1500.37V1449.04H392.3M389.1 1500.37V1551.69H405M385.5 1545.13V1500.37H389.1M385.5 1545.13V1589.88H405M388.3 1647.18V1628.08H405M388.3 1647.18V1666.28H405M390.4 1723.57V1704.47H405M390.4 1723.57V1742.66H405M378.3 1685.37V1647.18H388.3M378.3 1685.37V1723.57H390.4M365.3 1615.25V1545.13H385.5M365.3 1615.25V1685.37H378.3M397 1799.96V1780.86H405M397 1799.96V1819.05H405M392.1 1828.6V1799.96H397M392.1 1828.6V1857.25H405M387.3 1862.02V1828.6H392.1M387.3 1862.02V1895.45H405M380.4 1952.74V1933.64H405M380.4 1952.74V1971.84H405M375.3 1907.38V1862.02H387.3M375.3 1907.38V1952.74H380.4M399.1 2029.13V2010.03H405M399.1 2029.13V2048.22H405M400.2 2105.52V2086.42H405M400.2 2105.52V2124.61H405M384.2 2067.32V2029.13H399.1M384.2 2067.32V2105.52H400.2M390.8 2181.91V2162.81H405M390.8 2181.91V2201.01H405M371.7 2124.62V2067.32H384.2M371.7 2124.62V2181.91H390.8M342 2016V1907.38H375.3M342 2016V2124.62H371.7M333 1815.62V1615.25H365.3M333 1815.62V2016H342M291 1447.03V1078.43H323.8M291 1447.03V1815.62H333M369.5 2258.3V2239.2H405M369.5 2258.3V2277.39H405M345 2286.94V2258.3H369.5M345 2286.94V2315.59H405M221.5 1866.99V1447.03H291M221.5 1866.99V2286.94H345M41.2 2110.39V1866.99H221.5M41.2 2110.39V2353.78H405" fill="none" stroke="#000" stroke-width="2" stroke-linecap="round" stroke-linejoin="round"/>
<path d="M632.03 611.2H597.2V669M632.03 611.2H666.85V669M579.79 518.2H527.55V669M579.79 518.2H632.03V611.2M518.84 486.3H457.9V669M518.84 486.3H579.79V518.2M840.97 645.2H806.15V669M840.97 645.2H875.8V669M788.74 609.3H736.5V669M788.74 609.3H840.97V645.2M1049.92 627.6H1015.1V669M1049.92 627.6H1084.75V669M997.69 577.6H945.45V669M997.69 577.6H1049.92V627.6M893.21 245.7H788.74V609.3M893.21 245.7H997.69V577.6M706.03 15H518.84V486.3M706.03 15H893.21V245.7" fill="none" stroke="#000" stroke-width="2" stroke-linecap="round" stroke-linejoin="round"/>
<text class="rl" x="1132" y="720.7" textLength="103.2" lengthAdjust="spacingAndGlyphs">IPR013783<tspan dy="2.5">_</tspan></text>
<text class="rl" x="1235.6" y="720.7" textLength="206.9" lengthAdjust="spacingAndGlyphs">Immunoglobulin−like fold</text>
<text class="rl" x="1132" y="758.89" textLength="103.2" lengthAdjust="spacingAndGlyphs">IPR027295<tspan dy="2.5">_</tspan></text>
<text class="rl" x="1235.6" y="758.89" textLength="423.6" lengthAdjust="spacingAndGlyphs">Quinonprotein alcohol dehydrogenase−like domain</text>
<text class="rl" x="1132" y="797.09" textLength="103.2" lengthAdjust="spacingAndGlyphs">IPR001128<tspan dy="2.5">_</tspan></text>
<text class="rl" x="1235.6" y="797.09" textLength="151.1" lengthAdjust="spacingAndGlyphs">Cytochrome P450</text>
<text class="rl" x="1132" y="835.28" textLength="103.2" lengthAdjust="spacingAndGlyphs">IPR029017<tspan dy="2.5">_</tspan></text>
<text class="rl" x="1235.6" y="835.28" textLength="270.3" lengthAdjust="spacingAndGlyphs">Enolase N−terminal domain−like</text>
<text class="rl" x="1132" y="873.48" textLength="103.2" lengthAdjust="spacingAndGlyphs">IPR020683<tspan dy="2.5">_</tspan></text>
<text class="rl" x="1235.6" y="873.48" textLength="285.3" lengthAdjust="spacingAndGlyphs">Ankyrin repeat−containing domain</text>
<text class="rl" x="1132" y="911.67" textLength="103.2" lengthAdjust="spacingAndGlyphs">IPR003673<tspan dy="2.5">_</tspan></text>
<text class="rl" x="1235.6" y="911.67" textLength="218.2" lengthAdjust="spacingAndGlyphs">CoA−transferase family III</text>
<text class="rl" x="1132" y="949.87" textLength="103.2" lengthAdjust="spacingAndGlyphs">IPR010869<tspan dy="2.5">_</tspan></text>
<text class="rl" x="1235.6" y="949.87" textLength="317.4" lengthAdjust="spacingAndGlyphs">Protein of unknown function DUF1501</text>
<text class="rl" x="1132" y="988.06" textLength="103.2" lengthAdjust="spacingAndGlyphs">IPR013781<tspan dy="2.5">_</tspan></text>
<text class="rl" x="1235.6" y="988.06" textLength="314.4" lengthAdjust="spacingAndGlyphs">Glycoside hydrolase, catalytic domain</text>
<text class="rl" x="1132" y="1026.26" textLength="103.2" lengthAdjust="spacingAndGlyphs">IPR022028<tspan dy="2.5">_</tspan></text>
<text class="rl" x="1235.6" y="1026.26" textLength="318.2" lengthAdjust="spacingAndGlyphs">Protein of unknown function DUF3604</text>
<text class="rl" x="1132" y="1064.45" textLength="103.2" lengthAdjust="spacingAndGlyphs">IPR023606<tspan dy="2.5">_</tspan></text>
<text class="rl" x="1235.6" y="1064.45" textLength="282.8" lengthAdjust="spacingAndGlyphs">CoA−transferase family III domain</text>
<text class="rl" x="1132" y="1102.65" textLength="103.2" lengthAdjust="spacingAndGlyphs">IPR011251<tspan dy="2.5">_</tspan></text>
<text class="rl" x="1235.6" y="1102.65" textLength="192.3" lengthAdjust="spacingAndGlyphs">Luciferase−like domain</text>
<text class="rl" x="1132" y="1140.85" textLength="103.2" lengthAdjust="spacingAndGlyphs">IPR008274<tspan dy="2.5">_</tspan></text>
<text class="rl" x="1235.6" y="1140.85" textLength="553.7" lengthAdjust="spacingAndGlyphs">Aldehyde oxidase/xanthine dehydrogenase, molybdopterin binding</text>
<text class="rl" x="1132" y="1179.04" textLength="103.2" lengthAdjust="spacingAndGlyphs">IPR011042<tspan dy="2.5">_</tspan></text>
<text class="rl" x="1235.6" y="1179.04" textLength="303.6" lengthAdjust="spacingAndGlyphs">Six−bladed beta−propeller, TolB−like</text>
<text class="rl" x="1132" y="1217.23" textLength="103.2" lengthAdjust="spacingAndGlyphs">IPR001680<tspan dy="2.5">_</tspan></text>
<text class="rl" x="1235.6" y="1217.23" textLength="113.1" lengthAdjust="spacingAndGlyphs">WD40 repeat</text>
<text class="rl" x="1132" y="1255.43" textLength="103.2" lengthAdjust="spacingAndGlyphs">IPR000515<tspan dy="2.5">_</tspan></text>
<text class="rl" x="1235.6" y="1255.43" textLength="481.1" lengthAdjust="spacingAndGlyphs">ABC transporter type 1, transmembrane domain MetI−like</text>
<text class="rl" x="1132" y="1293.62" textLength="103.2" lengthAdjust="spacingAndGlyphs">IPR029065<tspan dy="2.5">_</tspan></text>
<text class="rl" x="1235.6" y="1293.62" textLength="270.3" lengthAdjust="spacingAndGlyphs">Enolase C−terminal domain−like</text>
<text class="rl" x="1132" y="1331.82" textLength="103.2" lengthAdjust="spacingAndGlyphs">IPR002611<tspan dy="2.5">_</tspan></text>
<text class="rl" x="1235.6" y="1331.82" textLength="245.7" lengthAdjust="spacingAndGlyphs">IstB−like ATP−binding protein</text>
<text class="rl" x="1132" y="1370.02" textLength="103.2" lengthAdjust="spacingAndGlyphs">IPR003812<tspan dy="2.5">_</tspan></text>
<text class="rl" x="1235.6" y="1370.02" textLength="104" lengthAdjust="spacingAndGlyphs">Fido domain</text>
<text class="rl" x="1132" y="1408.21" textLength="103.2" lengthAdjust="spacingAndGlyphs">IPR012296<tspan dy="2.5">_</tspan></text>
<text class="rl" x="1235.6" y="1408.21" textLength="229.8" lengthAdjust="spacingAndGlyphs">Nuclease, putative, TT1808</text>
<text class="rl" x="1132" y="1446.4" textLength="103.2" lengthAdjust="spacingAndGlyphs">IPR002560<tspan dy="2.5">_</tspan></text>
<text class="rl" x="1235.6" y="1446.4" textLength="356.1" lengthAdjust="spacingAndGlyphs">Transposase IS204/IS1001/IS1096/IS1165</text>
<text class="rl" x="1132" y="1484.6" textLength="103.2" lengthAdjust="spacingAndGlyphs">IPR003356<tspan dy="2.5">_</tspan></text>
<text class="rl" x="1235.6" y="1484.6" textLength="281.9" lengthAdjust="spacingAndGlyphs">DNA methylase, adenine−specific</text>
<text class="rl" x="1132" y="1522.79" textLength="103.2" lengthAdjust="spacingAndGlyphs">IPR002941<tspan dy="2.5">_</tspan></text>
<text class="rl" x="1235.6" y="1522.79" textLength="211.1" lengthAdjust="spacingAndGlyphs">DNA methylase N−4/N−6</text>
<text class="rl" x="1132" y="1560.99" textLength="103.2" lengthAdjust="spacingAndGlyphs">IPR001207<tspan dy="2.5">_</tspan></text>
<text class="rl" x="1235.6" y="1560.99" textLength="220.7" lengthAdjust="spacingAndGlyphs">Transposase, mutator type</text>
<text class="rl" x="1132" y="1599.18" textLength="103.2" lengthAdjust="spacingAndGlyphs">IPR001611<tspan dy="2.5">_</tspan></text>
<text class="rl" x="1235.6" y="1599.18" textLength="168.2" lengthAdjust="spacingAndGlyphs">Leucine−rich repeat</text>
<text class="rl" x="1132" y="1637.38" textLength="103.2" lengthAdjust="spacingAndGlyphs">IPR011659<tspan dy="2.5">_</tspan></text>
<text class="rl" x="1235.6" y="1637.38" textLength="217.3" lengthAdjust="spacingAndGlyphs">WD40−like Beta Propeller</text>
<text class="rl" x="1132" y="1675.58" textLength="103.2" lengthAdjust="spacingAndGlyphs">IPR019775<tspan dy="2.5">_</tspan></text>
<text class="rl" x="1235.6" y="1675.58" textLength="243.2" lengthAdjust="spacingAndGlyphs">WD40 repeat, conserved site</text>
<text class="rl" x="1132" y="1713.77" textLength="103.2" lengthAdjust="spacingAndGlyphs">IPR008775<tspan dy="2.5">_</tspan></text>
<text class="rl" x="1235.6" y="1713.77" textLength="239.4" lengthAdjust="spacingAndGlyphs">Phytanoyl−CoA dioxygenase</text>
<text class="rl" x="1132" y="1751.96" textLength="103.2" lengthAdjust="spacingAndGlyphs">IPR025875<tspan dy="2.5">_</tspan></text>
<text class="rl" x="1235.6" y="1751.96" textLength="176.5" lengthAdjust="spacingAndGlyphs">Leucine rich repeat 4</text>
<text class="rl" x="1132" y="1790.16" textLength="103.2" lengthAdjust="spacingAndGlyphs">IPR000160<tspan dy="2.5">_</tspan></text>
<text class="rl" x="1235.6" y="1790.16" textLength="134.8" lengthAdjust="spacingAndGlyphs">GGDEF domain</text>
<text class="rl" x="1132" y="1828.35" textLength="103.2" lengthAdjust="spacingAndGlyphs">IPR001434<tspan dy="2.5">_</tspan></text>
<text class="rl" x="1235.6" y="1828.35" textLength="301.9" lengthAdjust="spacingAndGlyphs">Domain of unknown function DUF11</text>
<text class="rl" x="1132" y="1866.55" textLength="103.2" lengthAdjust="spacingAndGlyphs">IPR001054<tspan dy="2.5">_</tspan></text>
<text class="rl" x="1235.6" y="1866.55" textLength="366.1" lengthAdjust="spacingAndGlyphs">Adenylyl cyclase class−3/4/guanylyl cyclase</text>
<text class="rl" x="1132" y="1904.75" textLength="103.2" lengthAdjust="spacingAndGlyphs">IPR001633<tspan dy="2.5">_</tspan></text>
<text class="rl" x="1235.6" y="1904.75" textLength="103.6" lengthAdjust="spacingAndGlyphs">EAL domain</text>
<text class="rl" x="1132" y="1942.94" textLength="103.2" lengthAdjust="spacingAndGlyphs">IPR000719<tspan dy="2.5">_</tspan></text>
<text class="rl" x="1235.6" y="1942.94" textLength="186.9" lengthAdjust="spacingAndGlyphs">Protein kinase domain</text>
<text class="rl" x="1132" y="1981.13" textLength="103.2" lengthAdjust="spacingAndGlyphs">IPR028974<tspan dy="2.5">_</tspan></text>
<text class="rl" x="1235.6" y="1981.13" textLength="159.8" lengthAdjust="spacingAndGlyphs">TSP type−3 repeat</text>
<text class="rl" x="1132" y="2019.33" textLength="103.2" lengthAdjust="spacingAndGlyphs">IPR012348<tspan dy="2.5">_</tspan></text>
<text class="rl" x="1235.6" y="2019.33" textLength="281.1" lengthAdjust="spacingAndGlyphs">Ribonucleotide reductase−related</text>
<text class="rl" x="1132" y="2057.53" textLength="103.2" lengthAdjust="spacingAndGlyphs">IPR023451<tspan dy="2.5">_</tspan></text>
<text class="rl" x="1235.6" y="2057.53" textLength="462" lengthAdjust="spacingAndGlyphs">Thymidylate synthase/dCMP hydroxymethylase domain</text>
<text class="rl" x="1132" y="2095.72" textLength="103.2" lengthAdjust="spacingAndGlyphs">IPR005046<tspan dy="2.5">_</tspan></text>
<text class="rl" x="1235.6" y="2095.72" textLength="307.8" lengthAdjust="spacingAndGlyphs">Protein of unknown function DUF285</text>
<text class="rl" x="1132" y="2133.91" textLength="103.2" lengthAdjust="spacingAndGlyphs">IPR011889<tspan dy="2.5">_</tspan></text>
<text class="rl" x="1235.6" y="2133.91" textLength="362.4" lengthAdjust="spacingAndGlyphs">Bacterial surface protein 26−residue repeat</text>
<text class="rl" x="1132" y="2172.11" textLength="103.2" lengthAdjust="spacingAndGlyphs">IPR012939<tspan dy="2.5">_</tspan></text>
<text class="rl" x="1235.6" y="2172.11" textLength="238.2" lengthAdjust="spacingAndGlyphs">Glycosyl hydrolase family 92</text>
<text class="rl" x="1132" y="2210.31" textLength="103.2" lengthAdjust="spacingAndGlyphs">IPR010823<tspan dy="2.5">_</tspan></text>
<text class="rl" x="1235.6" y="2210.31" textLength="263.2" lengthAdjust="spacingAndGlyphs">Structural protein of head Gp20</text>
<text class="rl" x="1132" y="2248.5" textLength="103.2" lengthAdjust="spacingAndGlyphs">IPR015943<tspan dy="2.5">_</tspan></text>
<text class="rl" x="1235.6" y="2248.5" textLength="369.5" lengthAdjust="spacingAndGlyphs">WD40/YVTN repeat−like−containing domain</text>
<text class="rl" x="1132" y="2286.7" textLength="103.2" lengthAdjust="spacingAndGlyphs">IPR011990<tspan dy="2.5">_</tspan></text>
<text class="rl" x="1235.6" y="2286.7" textLength="303.6" lengthAdjust="spacingAndGlyphs">Tetratricopeptide−like helical domain</text>
<text class="rl" x="1132" y="2324.89" textLength="103.2" lengthAdjust="spacingAndGlyphs">IPR017849<tspan dy="2.5">_</tspan></text>
<text class="rl" x="1235.6" y="2324.89" textLength="366.5" lengthAdjust="spacingAndGlyphs">Alkaline phosphatase−like, alpha/beta/alpha</text>
<text class="rl" x="1132" y="2363.09" textLength="103.2" lengthAdjust="spacingAndGlyphs">IPR016040<tspan dy="2.5">_</tspan></text>
<text class="rl" x="1235.6" y="2363.09" textLength="203.6" lengthAdjust="spacingAndGlyphs">NAD(P)−binding domain</text>
<text class="cl" transform="translate(457.9 2466.7) rotate(-90) scale(1.35 1)" x="0" y="0" textLength="65.68" lengthAdjust="spacing">P230</text>
<text class="cl" transform="translate(525.5 2466.7) rotate(-90) scale(1.35 1)" x="0" y="0" textLength="65.68" lengthAdjust="spacing">P232</text>
<text class="cl" transform="translate(601.6 2466.7) rotate(-90) scale(1.35 1)" x="0" y="0" textLength="65.68" lengthAdjust="spacing">P233</text>
<text class="cl" transform="translate(669.4 2466.7) rotate(-90) scale(1.35 1)" x="0" y="0" textLength="65.68" lengthAdjust="spacing">P231</text>
<text class="cl" transform="translate(732.7 2483.5) rotate(-90) scale(1.35 1)" x="0" y="0" textLength="78.08" lengthAdjust="spacing">Sw_03</text>
<text class="cl" transform="translate(805 2481.8) rotate(-90) scale(1.35 1)" x="0" y="0" textLength="77.64" lengthAdjust="spacing">Sw_01</text>
<text class="cl" transform="translate(873.3 2484) rotate(-90) scale(1.35 1)" x="0" y="0" textLength="79.26" lengthAdjust="spacing">Sw_02</text>
<text class="cl" transform="translate(942.7 2486.2) rotate(-90) scale(1.35 1)" x="0" y="0" textLength="80.89" lengthAdjust="spacing">Sd_02</text>
<text class="cl" transform="translate(1006.5 2487.3) rotate(-90) scale(1.35 1)" x="0" y="0" textLength="79.19" lengthAdjust="spacing">Sd_03</text>
<text class="cl" transform="translate(1083.7 2487.3) rotate(-90) scale(1.35 1)" x="0" y="0" textLength="78.45" lengthAdjust="spacing">Sd_01</text>
<g shape-rendering="crispEdges">
<rect x="18.1" y="465.8" width="17.2" height="80.2" fill="#545454"/>
<rect x="35" y="465.8" width="18.4" height="80.2" fill="#666666"/>
<rect x="53.1" y="465.8" width="20.9" height="80.2" fill="#777777"/>
<rect x="73.7" y="465.8" width="18.9" height="80.2" fill="#888888"/>
<rect x="92.3" y="465.8" width="17.9" height="80.2" fill="#a0a0a0"/>
<rect x="109.9" y="465.8" width="18.9" height="80.2" fill="#aeaeae"/>
<rect x="128.5" y="465.8" width="18.9" height="80.2" fill="#c0c0c0"/>
<rect x="147.1" y="465.8" width="20.3" height="80.2" fill="#d6d6d6"/>
<rect x="167.1" y="465.8" width="18.5" height="80.2" fill="#dbc3c3"/>
<rect x="185.3" y="465.8" width="18.9" height="80.2" fill="#e0afaf"/>
<rect x="203.9" y="465.8" width="18.9" height="80.2" fill="#e39c9c"/>
<rect x="222.5" y="465.8" width="18.9" height="80.2" fill="#e98888"/>
<rect x="241.1" y="465.8" width="19.4" height="80.2" fill="#f07575"/>
<rect x="260.2" y="465.8" width="18.9" height="80.2" fill="#f56464"/>
<rect x="278.8" y="465.8" width="18.2" height="80.2" fill="#ff5050"/>
</g>
<line x1="17.5" y1="547.3" x2="298" y2="547.3" stroke="#3a3a3a" stroke-width="2.5"/>
<line x1="42.6" y1="547" x2="42.6" y2="560.5" stroke="#3a3a3a" stroke-width="2"/>
<text class="kt" transform="translate(42.6 592.3) scale(1.15 1)" x="0" y="0" text-anchor="middle">−2</text>
<line x1="99.9" y1="547" x2="99.9" y2="560.5" stroke="#3a3a3a" stroke-width="2"/>
<text class="kt" transform="translate(99.9 592.3) scale(1.15 1)" x="0" y="0" text-anchor="middle">−1</text>
<line x1="157.5" y1="547" x2="157.5" y2="560.5" stroke="#3a3a3a" stroke-width="2"/>
<text class="kt" transform="translate(157.5 592.3) scale(1.15 1)" x="0" y="0" text-anchor="middle">0</text>
<line x1="215" y1="547" x2="215" y2="560.5" stroke="#3a3a3a" stroke-width="2"/>
<text class="kt" transform="translate(215 592.3) scale(1.15 1)" x="0" y="0" text-anchor="middle">1</text>
<line x1="272.6" y1="547" x2="272.6" y2="560.5" stroke="#3a3a3a" stroke-width="2"/>
<text class="kt" transform="translate(272.6 592.3) scale(1.15 1)" x="0" y="0" text-anchor="middle">2</text>
<text class="kt" x="90.8" y="624.5" textLength="133.4" lengthAdjust="spacingAndGlyphs">Row Z−Score</text>
</svg></body></html>
